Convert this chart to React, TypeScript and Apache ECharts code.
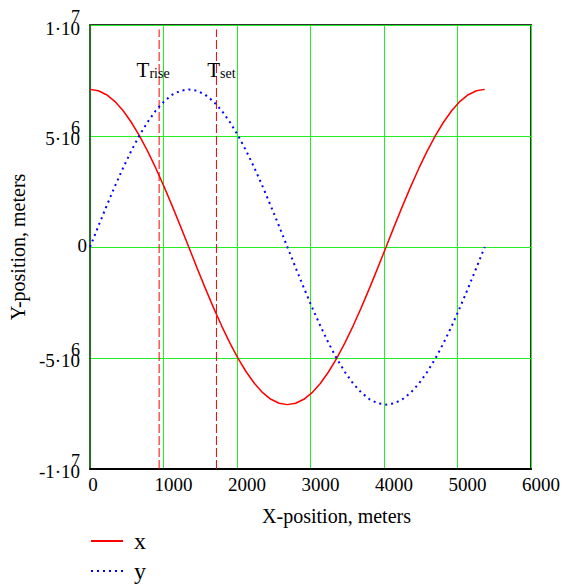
import React, { useEffect, useRef } from "react";
import * as echarts from "echarts";

// ---- data ----
const TIME = [
  0, 112, 224, 336, 448, 559, 671, 783, 895, 1007, 1119, 1231, 1343,
  1454, 1566, 1678, 1790, 1902, 2014, 2126, 2238, 2349, 2461, 2573, 2685,
  2797, 2909, 3021, 3133, 3244, 3356, 3468, 3580, 3692, 3804, 3916, 4028,
  4139, 4251, 4363, 4475, 4587, 4699, 4811, 4923, 5034, 5146, 5258, 5370,
];
const X_POS = [
  7.1e6, 7.04e6, 6.86e6, 6.56e6, 6.15e6, 5.63e6, 5.02e6, 4.32e6, 3.55e6, 2.72e6, 1.84e6, 0.93e6, 0,
  -0.93e6, -1.84e6, -2.72e6, -3.55e6, -4.32e6, -5.02e6, -5.63e6, -6.15e6, -6.56e6, -6.86e6, -7.04e6, -7.1e6,
  -7.04e6, -6.86e6, -6.56e6, -6.15e6, -5.63e6, -5.02e6, -4.32e6, -3.55e6, -2.72e6, -1.84e6, -0.93e6, 0,
  0.93e6, 1.84e6, 2.72e6, 3.55e6, 4.32e6, 5.02e6, 5.63e6, 6.15e6, 6.56e6, 6.86e6, 7.04e6, 7.1e6,
];
const Y_POS = [
  0, 0.93e6, 1.84e6, 2.72e6, 3.55e6, 4.32e6, 5.02e6, 5.63e6, 6.15e6, 6.56e6, 6.86e6, 7.04e6, 7.1e6,
  7.04e6, 6.86e6, 6.56e6, 6.15e6, 5.63e6, 5.02e6, 4.32e6, 3.55e6, 2.72e6, 1.84e6, 0.93e6, 0,
  -0.93e6, -1.84e6, -2.72e6, -3.55e6, -4.32e6, -5.02e6, -5.63e6, -6.15e6, -6.56e6, -6.86e6, -7.04e6, -7.1e6,
  -7.04e6, -6.86e6, -6.56e6, -6.15e6, -5.63e6, -5.02e6, -4.32e6, -3.55e6, -2.72e6, -1.84e6, -0.93e6, 0,
];
const SERIES_NAMES = ["x", "y"];
const EVENT_TIMES = [940, 1720];
const EVENT_SUBS = ["rise", "set"];
const EVENT_Y_RANGE = [-1e7, 9.8e6];
const EVENT_LABEL_Y = 8.0e6;
const Y_TICK_MAIN: Record<string, string> = {
  "10000000": "1·10",
  "5000000": "5·10",
  "0": "0",
  "-5000000": "-5·10",
  "-10000000": "-1·10",
};
const Y_TICK_EXP: Record<string, string> = {
  "10000000": "7",
  "5000000": "6",
  "0": "",
  "-5000000": "6",
  "-10000000": "7",
};
const X_NAME = "X-position, meters";
const Y_NAME = "Y-position, meters";

// ---- styles ----
const FONT = "'Liberation Serif', 'Times New Roman', serif";
const GRID_GREEN = "#22ee22";

export default function App() {
  const ref = useRef<HTMLDivElement>(null);

  useEffect(() => {
    if (!ref.current) return;
    const chart = echarts.init(ref.current, undefined, { renderer: "svg" });

    const xData = TIME.map((t, i) => [t, X_POS[i]]);
    const yData = TIME.map((t, i) => [t, Y_POS[i]]);
    const eventData = EVENT_TIMES.map((t, i) => ({
      value: [t, EVENT_LABEL_Y, EVENT_SUBS[i]],
      label: { offset: [i === 0 ? -6 : 5, 0] },
    }));
    const eventLines = EVENT_TIMES.map((t, i) => ({
      name: "T" + EVENT_SUBS[i],
      type: "line",
      data: EVENT_Y_RANGE.map((v) => [t, v]),
      showSymbol: false,
      symbol: "none",
      silent: true,
      lineStyle: { color: "#ff0000", width: 1, type: [9, 3] },
      itemStyle: { color: "#ff0000" },
      z: 2,
    }));

    chart.setOption({
      animation: false,
      backgroundColor: "#ffffff",
      grid: {
        left: 90,
        right: 33,
        top: 25,
        bottom: 117,
        show: true,
        borderColor: "#333",
        borderWidth: 2,
        backgroundColor: "transparent",
      },
      legend: {
        data: SERIES_NAMES,
        orient: "vertical",
        left: 90,
        top: 529,
        height: 57,
        padding: 0,
        itemWidth: 32,
        itemHeight: 14,
        itemGap: 6,
        itemStyle: { opacity: 0 },
        lineStyle: { opacity: 1 },
        textStyle: { fontSize: 24, lineHeight: 24, fontFamily: FONT, color: "#000", padding: [0, 0, 0, 6] },
      },
      xAxis: {
        type: "value",
        min: 0,
        max: 6000,
        interval: 1000,
        name: X_NAME,
        nameLocation: "middle",
        nameGap: 37,
        nameTextStyle: { fontSize: 20, fontFamily: FONT, color: "#000", padding: [0, 0, 0, 52] },
        axisLine: { show: true, onZero: false, lineStyle: { color: "#000", width: 2 } },
        axisTick: { show: false },
        splitLine: { show: true, lineStyle: { color: GRID_GREEN, width: 1 } },
        axisLabel: {
          margin: 6,
          fontSize: 19,
          fontFamily: FONT,
          color: "#000",
          formatter: (v: number) => (v === 0 ? "{z|0}" : `{n|${v}}`),
          rich: {
            z: { fontSize: 19, fontFamily: FONT, color: "#000", padding: [0, 0, 0, 6] },
            n: { fontSize: 19, fontFamily: FONT, color: "#000", padding: [0, 0, 0, 20] },
          },
        },
      },
      yAxis: [
        {
          type: "value",
          min: -1e7,
          max: 1e7,
          interval: 5e6,
          name: Y_NAME,
          nameLocation: "middle",
          nameGap: 55,
          nameTextStyle: { fontSize: 20, fontFamily: FONT, color: "#000" },
          axisLine: { show: true, onZero: false, lineStyle: { color: "#2d6b2d", width: 2 } },
          axisTick: { show: false },
          splitLine: { show: true, lineStyle: { color: GRID_GREEN, width: 1 } },
          axisLabel: {
            margin: 3,
            fontSize: 19,
            fontFamily: FONT,
            color: "#000",
            formatter: (v: number) => {
              const s = Y_TICK_MAIN[String(v)] ?? "";
              if (v === 0) return `{z|${s}}`;
              if (v === 1e7) return `{d|${s}}`;
              return `{m|${s}}`;
            },
            rich: {
              z: { fontSize: 19, fontFamily: FONT, color: "#000", padding: [0, 0, 4, 0] },
              m: { fontSize: 19, fontFamily: FONT, color: "#000", padding: [5, 7, 0, 0] },
              d: { fontSize: 19, fontFamily: FONT, color: "#000", padding: [7, 7, 0, 0] },
            },
          },
        },
        {
          type: "value",
          min: -1e7,
          max: 1e7,
          interval: 5e6,
          position: "left",
          axisLine: { show: false },
          axisTick: { show: false },
          splitLine: { show: false },
          axisLabel: {
            margin: 10,
            fontSize: 18,
            fontFamily: FONT,
            color: "#000",
            formatter: (v: number) => {
              const s = Y_TICK_EXP[String(v)] ?? "";
              return s ? `{e|${s}}` : "";
            },
            rich: {
              e: { fontSize: 18, fontFamily: FONT, color: "#000", padding: [0, 0, 16, 0] },
            },
          },
        },
      ],
      series: [
        {
          name: SERIES_NAMES[0],
          type: "line",
          data: xData,
          showSymbol: false,
          symbol: "none",
          lineStyle: { color: "#ff0000", width: 1.5 },
          itemStyle: { color: "#ff0000" },
          z: 3,
        },
        {
          name: SERIES_NAMES[1],
          type: "line",
          data: yData,
          showSymbol: false,
          symbol: "none",
          lineStyle: { color: "#0000ff", width: 2, type: [2, 4] },
          itemStyle: { color: "#0000ff" },
          z: 3,
        },
        ...eventLines,
        {
          name: "events",
          type: "scatter",
          data: eventData,
          symbolSize: 0,
          silent: true,
          itemStyle: { color: "#000", opacity: 1 },
          z: 4,
          label: {
            show: true,
            position: "inside",
            color: "#000",
            opacity: 1,
            textBorderWidth: 0,
            formatter: (p: any) => `{t|T}{s|${p.data.value[2]}}`,
            rich: {
              t: { fontSize: 21, fontFamily: FONT, color: "#000", lineHeight: 22, verticalAlign: "bottom", textBorderWidth: 0 },
              s: { fontSize: 14, fontFamily: FONT, color: "#000", lineHeight: 14, verticalAlign: "bottom", textBorderWidth: 0 },
            },
          },
        },
      ],
    });

    return () => chart.dispose();
  }, []);

  return (
    <div
      ref={ref}
      style={{ position: "fixed", left: 0, top: 0, width: 564, height: 586, background: "#fff" }}
    />
  );
}
